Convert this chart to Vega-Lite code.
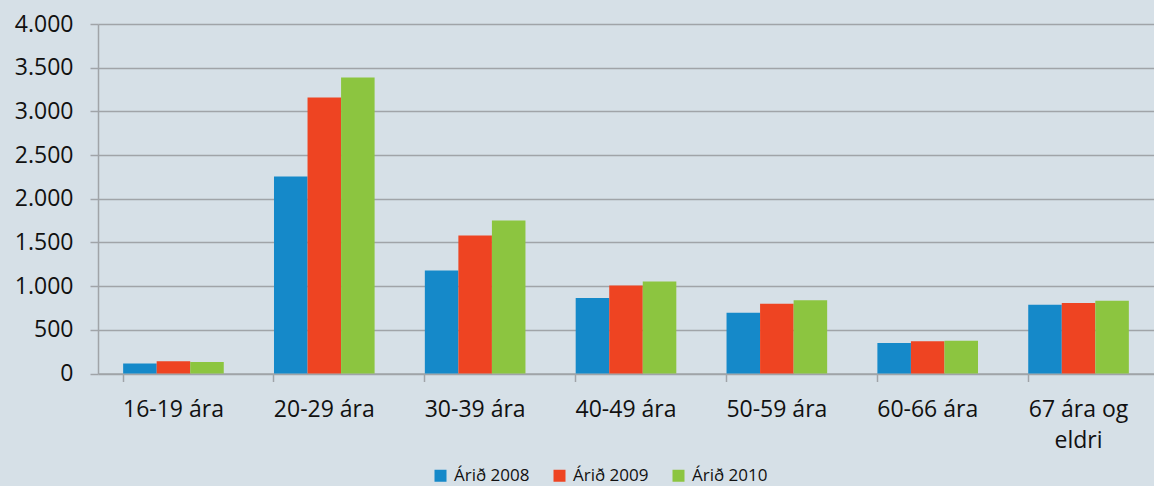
{
  "$schema": "https://vega.github.io/schema/vega-lite/v6.json",
  "width": 1056,
  "height": 349.5,
  "autosize": {"type": "none"},
  "padding": {"left": 98, "top": 24, "right": 0, "bottom": 112},
  "background": "#d6e0e7",
  "config": {
    "view": {"stroke": null},
    "font": "Open Sans",
    "axis": {"labelFont": "Open Sans", "labelColor": "#111111"},
    "legend": {"labelFont": "Open Sans"}
  },
  "data": {
    "values": [
      {"aldur": "16-19 ára", "ar": "Árið 2008", "fjoldi": 114},
      {"aldur": "16-19 ára", "ar": "Árið 2009", "fjoldi": 141},
      {"aldur": "16-19 ára", "ar": "Árið 2010", "fjoldi": 133},
      {"aldur": "20-29 ára", "ar": "Árið 2008", "fjoldi": 2255},
      {"aldur": "20-29 ára", "ar": "Árið 2009", "fjoldi": 3158},
      {"aldur": "20-29 ára", "ar": "Árið 2010", "fjoldi": 3387},
      {"aldur": "30-39 ára", "ar": "Árið 2008", "fjoldi": 1178},
      {"aldur": "30-39 ára", "ar": "Árið 2009", "fjoldi": 1579},
      {"aldur": "30-39 ára", "ar": "Árið 2010", "fjoldi": 1750},
      {"aldur": "40-49 ára", "ar": "Árið 2008", "fjoldi": 865},
      {"aldur": "40-49 ára", "ar": "Árið 2009", "fjoldi": 1007},
      {"aldur": "40-49 ára", "ar": "Árið 2010", "fjoldi": 1053},
      {"aldur": "50-59 ára", "ar": "Árið 2008", "fjoldi": 696},
      {"aldur": "50-59 ára", "ar": "Árið 2009", "fjoldi": 799},
      {"aldur": "50-59 ára", "ar": "Árið 2010", "fjoldi": 838},
      {"aldur": "60-66 ára", "ar": "Árið 2008", "fjoldi": 349},
      {"aldur": "60-66 ára", "ar": "Árið 2009", "fjoldi": 368},
      {"aldur": "60-66 ára", "ar": "Árið 2010", "fjoldi": 375},
      {"aldur": "67 ára og eldri", "ar": "Árið 2008", "fjoldi": 787},
      {"aldur": "67 ára og eldri", "ar": "Árið 2009", "fjoldi": 806},
      {"aldur": "67 ára og eldri", "ar": "Árið 2010", "fjoldi": 833}
    ]
  },
  "mark": {"type": "bar"},
  "encoding": {
    "x": {
      "field": "aldur",
      "type": "nominal",
      "sort": null,
      "title": null,
      "scale": {"paddingInner": 0.333, "paddingOuter": 0.1667},
      "axis": {
        "labelAngle": 0,
        "labelFontSize": 23,
        "labelPadding": 17,
        "labelLineHeight": 31,
        "labelExpr": "datum.label == '67 ára og eldri' ? ['67 ára og', 'eldri'] : datum.label",
        "bandPosition": 0,
        "tickSize": 8,
        "tickColor": "#a0a4a8",
        "tickWidth": 1.5,
        "domainColor": "#a0a4a8",
        "domainWidth": 1.5,
        "grid": false
      }
    },
    "xOffset": {"field": "ar", "type": "nominal"},
    "y": {
      "field": "fjoldi",
      "type": "quantitative",
      "title": null,
      "scale": {"domain": [0, 4000], "nice": false},
      "axis": {
        "values": [0, 500, 1000, 1500, 2000, 2500, 3000, 3500, 4000],
        "labelExpr": "replace(format(datum.value, ','), ',', '.')",
        "labelFontSize": 23,
        "labelPadding": 17,
        "tickSize": 8,
        "tickColor": "#a0a4a8",
        "tickWidth": 1.5,
        "domainColor": "#a0a4a8",
        "domainWidth": 1.5,
        "gridColor": "#a0a4a8",
        "gridWidth": 1.5,
        "gridOpacity": 1
      }
    },
    "color": {
      "field": "ar",
      "type": "nominal",
      "title": null,
      "scale": {"range": ["#1589c9", "#ee4422", "#8cc540"]},
      "legend": {
        "orient": "none",
        "legendX": 334,
        "legendY": 443,
        "direction": "horizontal",
        "symbolType": "square",
        "symbolSize": 144,
        "symbolStrokeWidth": 0,
        "labelFontSize": 17,
        "labelColor": "#111111",
        "labelOffset": 5,
        "columnPadding": 21
      }
    }
  }
}
